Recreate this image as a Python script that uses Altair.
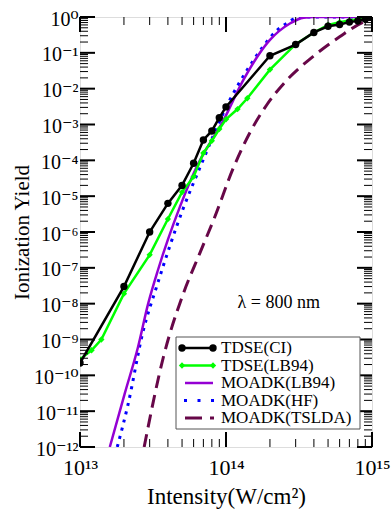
import altair as alt
import pandas as pd

# ---------------- data ----------------
ci_x = [1e13, 2e13, 3e13, 4e13, 5e13, 6e13, 7e13, 8e13, 9e13, 1e14, 2e14, 3e14,
        4e14, 5e14, 6e14, 7e14, 8e14, 9e14, 1e15]
ci_y = [2.2e-10, 3e-8, 1e-6, 6.3e-6, 2e-5, 8.3e-5, 3.7e-4, 6.6e-4, 1.55e-3, 3.1e-3,
        0.083, 0.17, 0.37, 0.55, 0.62, 0.72, 0.78, 0.88, 0.98]

lb_x = [1e13, 1.2e13, 1.4e13, 2e13, 3e13, 4e13, 5e13, 6e13, 7e13, 8e13, 9e13, 1e14,
        1.2e14, 1.4e14, 2e14, 3e14, 4e14, 5e14, 6e14, 7e14, 8e14, 9e14, 1e15]
lb_y = [2.8e-10, 5e-10, 1e-9, 1.9e-8, 2.3e-7, 2.3e-6, 1.3e-5, 3.5e-5, 1.6e-4, 3.5e-4,
        7.5e-4, 1.4e-3, 2.7e-3, 5.4e-3, 0.034, 0.175, 0.37, 0.6, 0.72, 0.8, 0.86, 0.92, 1.0]

mlb_x = [1.6e13, 2.02e13, 2.5e13, 2.93e13, 3.42e13, 4.84e13, 6.3e13, 9.6e13, 1.31e14,
         2e14, 2.74e14, 3.4e14, 4e14, 1e15]
mlb_y = [1e-12, 3e-11, 6.3e-10, 1e-8, 8.7e-8, 5.1e-6, 6.6e-5, 1.3e-3, 0.017,
         0.23, 0.66, 0.96, 1.0, 1.0]

mhf_x = [1.8e13, 2.13e13, 2.7e13, 3.35e13, 5.1e13, 6.6e13, 1.06e14, 1.42e14, 1.75e14,
         2.24e14, 2.6e14, 3.05e14, 3.5e14, 1e15]
mhf_y = [1e-12, 1.5e-11, 1.65e-9, 3e-8, 4.6e-6, 6e-5, 4.8e-3, 0.037, 0.13,
         0.43, 0.66, 0.95, 1.0, 1.0]

ts_x = [2.75e13, 3.73e13, 5.1e13, 6.6e13, 8.4e13, 1.12e14, 1.46e14, 1.9e14, 2.6e14,
        3.96e14, 6e14, 8.7e14, 1e15]
ts_y = [1e-12, 3.3e-10, 1.9e-8, 2.5e-7, 2.7e-6, 6e-5, 6e-4, 3.5e-3, 0.017,
        0.08, 0.28, 0.72, 0.88]

series_names = ["TDSE(CI)", "TDSE(LB94)", "MOADK(LB94)", "MOADK(HF)", "MOADK(TSLDA)"]

x_major = [1e13, 1e14, 1e15]
x_minor = [m * 10.0 ** k for k in (13, 14) for m in range(2, 10)]
y_major = [10.0 ** k for k in range(-12, 1)]
y_minor = [m * 10.0 ** k for k in range(-12, 0) for m in range(2, 10)]

lam_text = ["λ = 800 nm"]
lam_x = [2.3e14]
lam_y = [1.05e-8]

# ---------------- styling ----------------
FONT = "'Liberation Serif', 'DejaVu Serif', 'Times New Roman', serif"
W, H = 292, 430
BLACK, GREEN, VIOLET, BLUE, MAROON = "#000000", "#00FF00", "#9400D3", "#0000FF", "#670748"

sup = str.maketrans("0123456789-", "⁰¹²³⁴⁵⁶⁷⁸⁹⁻")
ylabels = ["10" + str(k).translate(sup) for k in range(-12, 1)]
xlabels = ["10" + str(k).translate(sup) for k in (13, 14, 15)]
yexpr = "[" + ",".join(f"'{s}'" for s in ylabels) + "][round(log(datum.value)/LN10)+12]"
xexpr = "[" + ",".join(f"'{s}'" for s in xlabels) + "][round(log(datum.value)/LN10)-13]"

xs = alt.Scale(type="log", domain=[1e13, 1e15], nice=False)
ys = alt.Scale(type="log", domain=[1e-12, 1], nice=False)

xaxis = alt.Axis(values=x_major, labelExpr=xexpr, ticks=False, domain=False, grid=False,
                 labelFont=FONT, labelFontSize=22, labelColor="black", labelPadding=27,
                 labelBaseline="alphabetic", labelFlush=False, labelOverlap=False,
                 labelBound=False,
                 title="Intensity(W/cm²)", titleFont=FONT, titleFontSize=23,
                 titleFontWeight="normal", titleColor="black", titleX=W / 2, titleY=56,
                 titleAlign="center", titleBaseline="alphabetic")
yaxis = alt.Axis(values=y_major, labelExpr=yexpr, ticks=False, domain=False, grid=False,
                 labelFont=FONT, labelFontSize=20, labelColor="black", labelPadding=2,
                 labelOffset=2, labelFlush=False, labelOverlap=False, labelBound=False,
                 title="Ionization Yield", titleFont=FONT, titleFontSize=21,
                 titleFontWeight="normal", titleColor="black", titleX=-58, titleY=H / 2,
                 titleAlign="center", titleBaseline="middle", titleAngle=-90)

X = alt.X("x:Q", scale=xs, axis=xaxis)
Y = alt.Y("y:Q", scale=ys, axis=yaxis)


def df(x, y):
    return pd.DataFrame({"x": x, "y": y})


layers = []

# model curves
layers.append(alt.Chart(df(ts_x, ts_y)).mark_line(
    color=MAROON, strokeWidth=3, strokeDash=[13, 7], clip=True, interpolate="monotone"
).encode(x=X, y=Y))
layers.append(alt.Chart(df(mhf_x, mhf_y)).mark_line(
    color=BLUE, strokeWidth=3, strokeDash=[3, 5.5], clip=True, interpolate="monotone"
).encode(x=X, y=Y))
layers.append(alt.Chart(df(mlb_x, mlb_y)).mark_line(
    color=VIOLET, strokeWidth=2.5, clip=True, interpolate="monotone"
).encode(x=X, y=Y))

# TDSE curves
layers.append(alt.Chart(df(lb_x, lb_y)).mark_line(
    color=GREEN, strokeWidth=2.5, clip=True,
    point=alt.OverlayMarkDef(filled=True, color=GREEN, size=40, shape="diamond", opacity=1)
).encode(x=X, y=Y))
layers.append(alt.Chart(df(ci_x, ci_y)).mark_line(
    color=BLACK, strokeWidth=2.5, clip=True,
    point=alt.OverlayMarkDef(filled=True, color=BLACK, size=55, shape="circle", opacity=1)
).encode(x=X, y=Y))

# lambda annotation
layers.append(alt.Chart(pd.DataFrame({"x": lam_x, "y": lam_y, "t": lam_text})).mark_text(
    font=FONT, fontSize=18, color="black", align="center", baseline="middle"
).encode(x=X, y=Y, text="t:N"))

# inward ticks on all four sides
MAJ, MIN = 15, 8
for vals, length, sw in ((y_major, MAJ, 2), (y_minor, MIN, 1)):
    d = pd.DataFrame({"y": vals})
    layers.append(alt.Chart(d).mark_rule(color="black", strokeWidth=sw).encode(
        y=Y, x=alt.value(0), x2=alt.value(length)))
    layers.append(alt.Chart(d).mark_rule(color="black", strokeWidth=sw).encode(
        y=Y, x=alt.value(W), x2=alt.value(W - length)))
for vals, length, sw in ((x_major, MAJ, 2), (x_minor, MIN, 1)):
    d = pd.DataFrame({"x": vals})
    layers.append(alt.Chart(d).mark_rule(color="black", strokeWidth=sw).encode(
        x=X, y=alt.value(H), y2=alt.value(H - length)))
    layers.append(alt.Chart(d).mark_rule(color="black", strokeWidth=sw).encode(
        x=X, y=alt.value(0), y2=alt.value(length)))

# legend (drawn by hand to mimic the reference)
one = pd.DataFrame({"a": [0]})
layers.append(alt.Chart(one).mark_rect(fill="white", stroke="#555555", strokeWidth=1).encode(
    x=alt.value(96), x2=alt.value(280), y=alt.value(320), y2=alt.value(412)))

leg_style = [
    dict(color=BLACK, width=2.5, dash=None, x1=102, x2=133, marker="circle", msize=55),
    dict(color=GREEN, width=2.5, dash=None, x1=102, x2=133, marker="diamond", msize=40),
    dict(color=VIOLET, width=2.5, dash=None, x1=105, x2=133, marker=None, msize=0),
    dict(color=BLUE, width=3, dash=[3, 10.5], x1=104, x2=134, marker=None, msize=0),
    dict(color=MAROON, width=3, dash=[17, 8], x1=105, x2=134, marker=None, msize=0),
]
for i, (name, st) in enumerate(zip(series_names, leg_style)):
    yy = 331 + i * 17.5
    rule_kw = dict(color=st["color"], strokeWidth=st["width"])
    if st["dash"]:
        rule_kw["strokeDash"] = st["dash"]
    layers.append(alt.Chart(one).mark_rule(**rule_kw).encode(
        x=alt.value(st["x1"]), x2=alt.value(st["x2"]), y=alt.value(yy)))
    if st["marker"]:
        for px in (st["x1"], st["x2"]):
            layers.append(alt.Chart(one).mark_point(
                filled=True, color=st["color"], shape=st["marker"], size=st["msize"], opacity=1
            ).encode(x=alt.value(px), y=alt.value(yy)))
    layers.append(alt.Chart(one).mark_text(
        align="left", baseline="middle", font=FONT, fontSize=17, color="black", text=name
    ).encode(x=alt.value(141), y=alt.value(yy)))

chart = alt.layer(*layers).properties(
    width=W, height=H,
    padding={"left": 80, "top": 17, "right": 20, "bottom": 62},
    autosize=alt.AutoSizeParams(type="none"),
).configure_view(stroke="black", strokeWidth=2.5).configure(background="white")

chart.save("out.html", embed_options={"renderer": "svg", "actions": False})
